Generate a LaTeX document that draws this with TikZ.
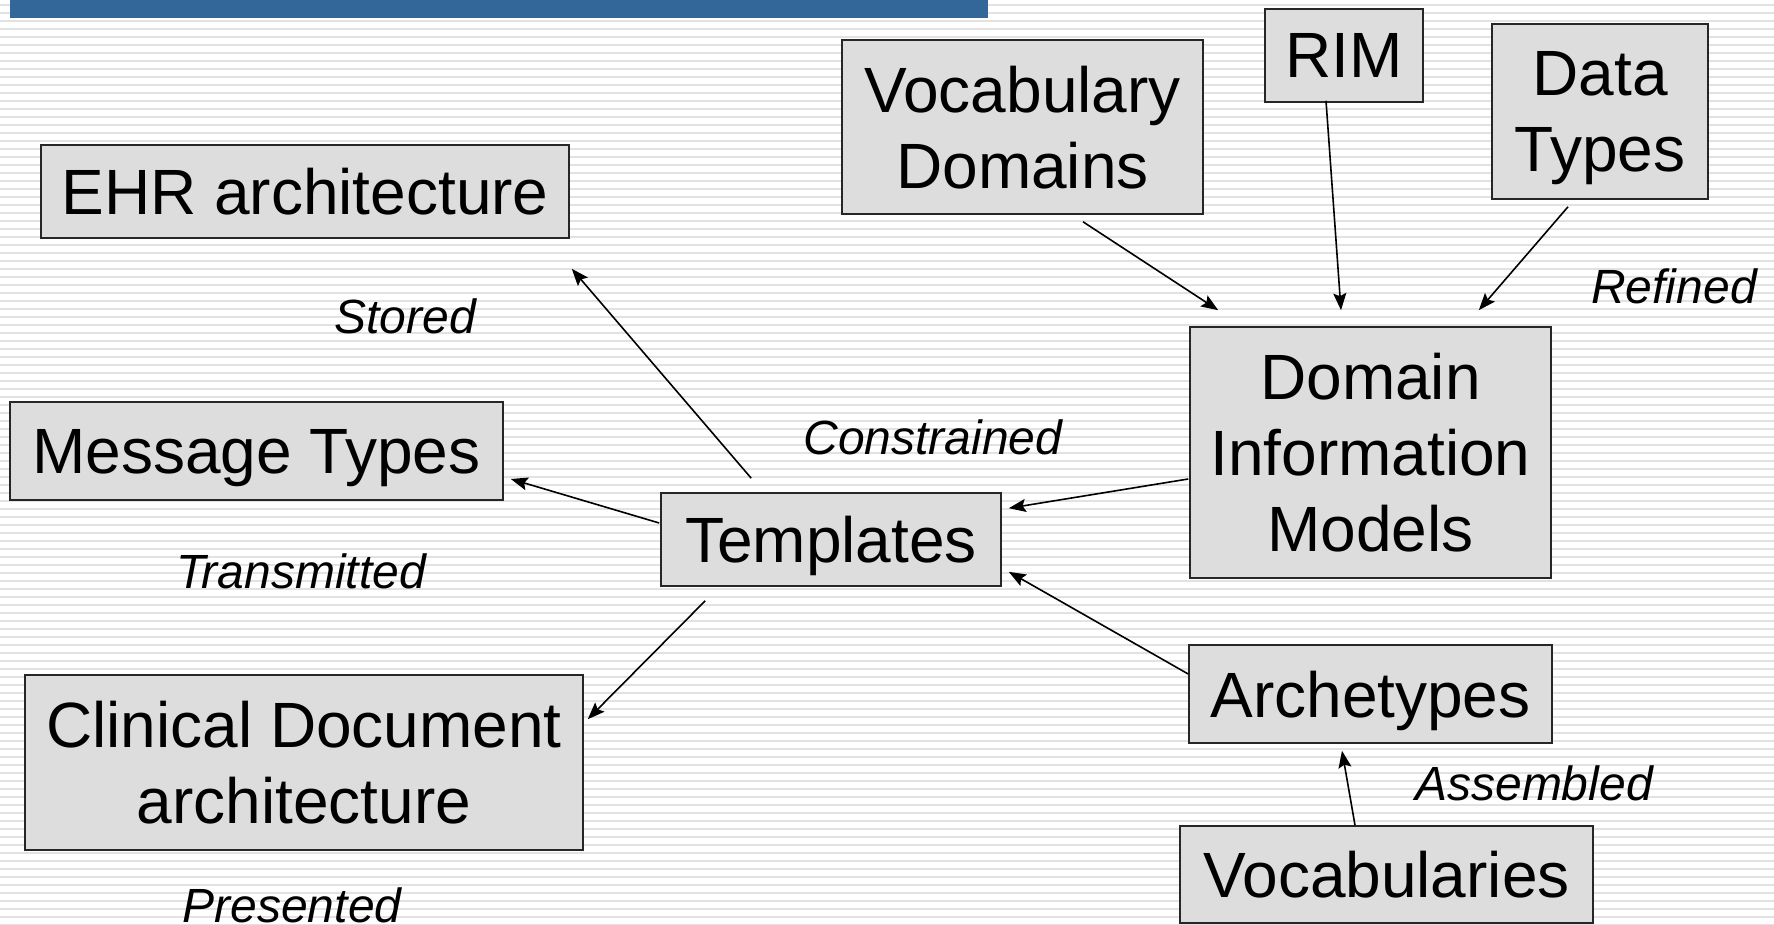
\documentclass[tikz,border=0pt]{standalone}
\usepackage{fontspec}
\setmainfont{Liberation Sans}
\usetikzlibrary{arrows.meta}
\definecolor{barblue}{RGB}{51,102,153}
\definecolor{boxgray}{RGB}{221,221,221}
\definecolor{stripe}{RGB}{226,226,226}
\tikzset{
  box/.style={draw=black!85, line width=1.6pt, fill=boxgray, inner sep=0pt,
    align=center, text depth=0pt, font=\fontsize{64}{76}\selectfont},
  lbl/.style={anchor=base, inner sep=0pt, font=\fontsize{48}{56}\selectfont\itshape},
  conn/.style={line width=1.6pt, -{Stealth[length=17pt,width=13pt,inset=3pt]}}
}
\begin{document}
\begin{tikzpicture}[x=1pt,y=-1pt]
\useasboundingbox (0,0) rectangle (1774,925);
\fill[white] (0,0) rectangle (1774,925);
\foreach \k in {0,...,115} {
  \draw[stripe, line width=2.5pt] (0,{5+8*\k}) -- (1774,{5+8*\k});
}
\fill[barblue] (10,0) rectangle (988,18);

% boxes
\node[box, minimum width=528pt, minimum height=93pt] (ehr) at (305,191.5) {EHR architecture};
\node[box, minimum width=493pt, minimum height=98pt] (msg) at (256.5,451) {Message Types};
\node[box, minimum width=558pt, minimum height=175pt] (cda) at (304,762.5) {Clinical Document\\architecture};
\node[box, minimum width=340pt, minimum height=93pt] (tmpl) at (831,539.5) {Templates};
\node[box, minimum width=361pt, minimum height=174pt] (vocdom) at (1022.5,127) {Vocabulary\\Domains};
\node[box, minimum width=158pt, minimum height=93pt] (rim) at (1344,55.5) {RIM};
\node[box, minimum width=216pt, minimum height=175pt] (dt) at (1600,111.5) {Data\\Types};
\node[box, minimum width=361pt, minimum height=251pt] (dim) at (1370.5,452.5) {Domain\\Information\\Models};
\node[box, minimum width=363pt, minimum height=98pt] (arch) at (1370.5,694) {Archetypes};
\node[box, minimum width=413pt, minimum height=97pt] (vocab) at (1386.5,874.5) {Vocabularies};

% labels
\node[lbl] (lstored) at (405,333) {Stored};
\node[lbl] (lconstr) at (933,454) {Constrained};
\node[lbl] (lrefined) at (1674,303) {Refined};
\node[lbl] (ltrans) at (301,588) {Transmitted};
\node[lbl] (lassem) at (1534,800) {Assembled};
\node[lbl] (lpres) at (292,922) {Presented};

% connectors
\draw[conn] ([shift={(91,-14)}]tmpl.north west) -- ([shift={(2,30)}]ehr.south east);
\draw[conn] ([shift={(-1,-16.5)}]tmpl.west) -- ([shift={(7,28)}]msg.east);
\draw[conn] ([shift={(45,14)}]tmpl.south west) -- ([shift={(4,45)}]cda.north east);
\draw[conn] ([shift={(-1,26.5)}]dim.west) -- ([shift={(7,16)}]tmpl.north east);
\draw[conn] ([shift={(0,-20)}]arch.west) -- ([shift={(7,-15)}]tmpl.south east);
\draw[conn] ([shift={(60.5,7)}]vocdom.south) -- ([shift={(29,-16)}]dim.north west);
\draw[conn] ([shift={(-18,-2)}]rim.south) -- ([shift={(-29.5,-16)}]dim.north);
\draw[conn] ([shift={(-32,7)}]dt.south) -- ([shift={(-73,-16)}]dim.north east);
\draw[conn] ([shift={(-31.5,0)}]vocab.north) -- ([shift={(-28.5,7)}]arch.south);
\end{tikzpicture}
\end{document}
